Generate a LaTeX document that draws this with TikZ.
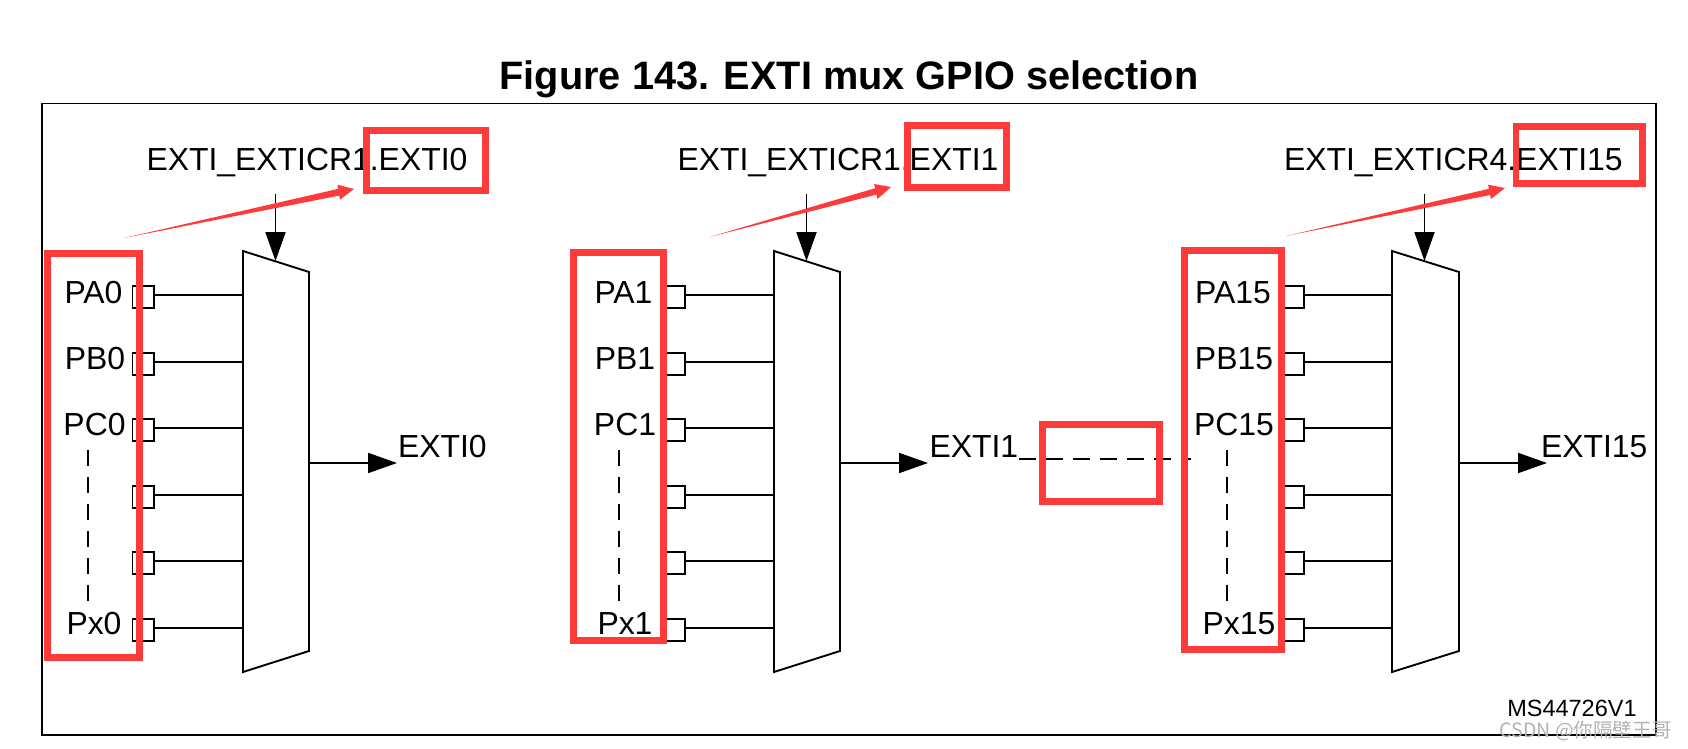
\documentclass[tikz,border=0pt]{standalone}
\usepackage{fontspec}
\setmainfont{Liberation Sans}
\newfontfamily\cjkfont{Noto Sans CJK SC}
\usetikzlibrary{arrows.meta}
\definecolor{markred}{HTML}{FD3B3B}
\tikzset{
  wire/.style={line width=0.95pt,black},
  flow/.style={wire,-{Triangle[length=14.5pt,width=10pt]},shorten >=0pt},
  skip/.style={wire,dash pattern=on 8pt off 5.5pt},
  pinbox/.style={draw,wire,rectangle,minimum width=10.8pt,minimum height=11pt,inner sep=0pt,outer sep=0pt},
  lbl/.style={inner sep=0pt,outer sep=0pt,font=\fontsize{15.95pt}{18pt}\selectfont},
  ctllbl/.style={lbl,anchor=base west,font=\fontsize{15.95pt}{18pt}\selectfont},
  redbox/.style={draw=markred,line width=3.4pt,miter limit=10},
  redarrow/.style={fill=markred,draw=none},
}
\begin{document}
\begin{tikzpicture}[x=0.5pt,y=-0.5pt]
\useasboundingbox (0,0) rectangle (1688,749);

\node[anchor=base,inner sep=0pt,font=\fontsize{19.85pt}{22pt}\selectfont\bfseries] (title) at (849,90) {Figure 143. EXTI mux GPIO selection};
\coordinate (frameNW) at (41.8,103.5);
\coordinate (frameSE) at (1656,735);
\draw[wire] (frameNW) rectangle (frameSE);

% One multiplexer column: pads, input wires, trapezoid, select and output arrows
\foreach \u/\pinx/\muxx/\muxw/\num/\ctl/\ctlx/\outx/\la/\lb/\lc/\lx/\dashx in {
  a/143.3/243/66/0/1/146.5/398/93.5/95/94.5/94/88,
  b/674.5/774/66/1/1/677.5/929.5/623.5/625/625/625/619,
  c/1293/1392/67/15/4/1284/1541/1233/1234/1234/1239/1226.7}{
  \coordinate (\u tl) at (\muxx,251);
  \coordinate (\u tr) at (\muxx+\muxw,272);
  \coordinate (\u br) at (\muxx+\muxw,651);
  \coordinate (\u bl) at (\muxx,672);
  \draw[wire,line join=miter] (\u tl) -- (\u tr) -- (\u br) -- (\u bl) -- cycle;

  \foreach \k/\y in {1/295,2/362,3/428,4/495,5/561,6/628}{
    \node[pinbox] (\u p\k) at (\pinx,\y+2) {};
    \coordinate (\u m\k) at (\muxx,\y);
    \draw[wire] (\u p\k.east |- \u m\k) -- (\u m\k);
  }

  \node[lbl,anchor=base] (\u A) at (\la,303) {PA\num};
  \node[lbl,anchor=base] (\u B) at (\lb,369) {PB\num};
  \node[lbl,anchor=base] (\u C) at (\lc,435) {PC\num};
  \node[lbl,anchor=base] (\u X) at (\lx,634) {Px\num};
  \coordinate (\u dt) at (\dashx,450);
  \coordinate (\u db) at (\dashx,602);
  \draw[skip] (\u dt) -- (\u db);

  \node[ctllbl] (\u ctl) at (\ctlx,170) {EXTI\_EXTICR\ctl.EXTI\num};
  \coordinate (\u sel) at (\muxx+32.5,194);
  \coordinate (\u selend) at (\muxx+32.5,261);
  \draw[flow] (\u sel) -- (\u selend);

  \coordinate (\u os) at (\muxx+\muxw,463);
  \coordinate (\u oe) at (\muxx+\muxw+88,463);
  \draw[flow] (\u os) -- (\u oe);
  \node[lbl,anchor=base west] (\u out) at (\outx,457) {EXTI\num};
}

% Dashed link between the second and last columns
\coordinate (linkL) at (1019.3,459);
\coordinate (linkR) at (1190.7,459);
\draw[wire,dash pattern=on 8.5pt off 5pt] (linkL) -- (linkR);

\node[anchor=base east,inner sep=0pt,font=\fontsize{11.75pt}{14pt}\selectfont] (code) at (1637,716) {MS44726V1};

% Highlight rectangles
\draw[redbox] (47.7,253.5) rectangle (139.7,657.3);
\draw[redbox] (573.3,252.3) rectangle (663.7,640.5);
\draw[redbox] (1184.6,250.5) rectangle (1281.4,649.4);
\draw[redbox] (366.5,130.2) rectangle (485.5,190.3);
\draw[redbox] (907.5,125.5) rectangle (1006.5,187.3);
\draw[redbox] (1516,126.5) rectangle (1642.5,183.3);
\draw[redbox] (1042.7,424.5) rectangle (1159.3,501.3);

% Tapered arrows from the pad groups to the selection fields
\fill[redarrow] (124,238) -- (338,188.9) -- (337.5,184.7) -- (354,189) -- (340,199.7) -- (339.2,195.6) -- cycle;
\fill[redarrow] (709.5,237) -- (875.2,188.2) -- (874,184) -- (891,187) -- (877.5,199) -- (876.5,194.6) -- cycle;
\fill[redarrow] (1286,236) -- (1489,188.8) -- (1488,184.7) -- (1505,188) -- (1491,199) -- (1490,195) -- cycle;

\node[anchor=base east,inner sep=0pt,text=black!30,font=\fontsize{9.8pt}{12pt}\cjkfont] (wm) at (1672,737) {CSDN @你隔壁王哥};
\end{tikzpicture}
\end{document}
